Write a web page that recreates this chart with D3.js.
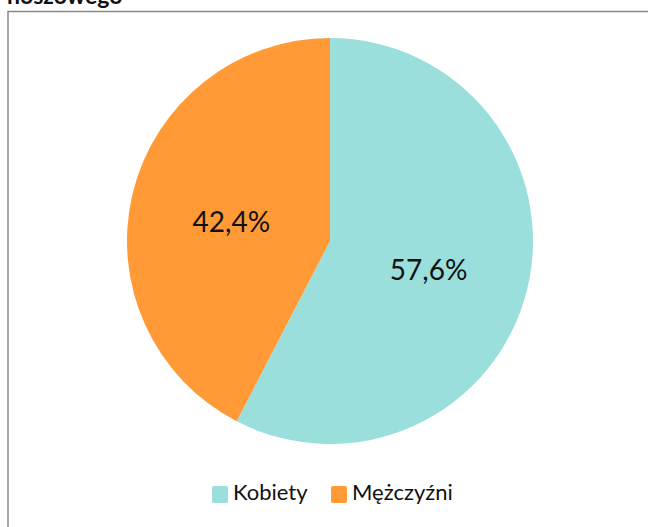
<!DOCTYPE html>
<html>
<head>
<meta charset="utf-8">
<script src="https://cdn.jsdelivr.net/npm/d3@7/dist/d3.min.js"></script>
<style>
  html, body { margin: 0; padding: 0; background: #fff; }
  svg { display: block; }
</style>
</head>
<body>
<svg id="chart" width="648" height="527"></svg>
<script>
// Share of women and men (percent)
const categories = ["Kobiety", "Mężczyźni"];
const values = [57.6, 42.4];
const labels = ["57,6%", "42,4%"];
const colors = ["#9ADFDC", "#FF9A36"];
const titleText = "noszowego";

const svg = d3.select("#chart");
const W = 648, H = 527;
const font = "Lato, 'Open Sans', sans-serif";

// Title (continues from a line above the visible area)
svg.append("text")
  .attr("x", 7)
  .attr("y", 4)
  .attr("font-family", font)
  .attr("font-weight", "bold")
  .attr("font-size", 23)
  .attr("fill", "#111")
  .text(titleText);

// Chart frame, running off the right and bottom edges
svg.append("path")
  .attr("d", `M8,${H + 5} L8,11.5 L${W + 5},11.5`)
  .attr("fill", "none")
  .attr("stroke", "#8a8a8a")
  .attr("stroke-width", 1.5);

const cx = 330, cy = 241, r = 203;
const g = svg.append("g").attr("transform", `translate(${cx},${cy})`);

const pie = d3.pie().sort(null).value(d => d);
const arcs = pie(values);
const arc = d3.arc().innerRadius(0).outerRadius(r);

g.selectAll("path.slice")
  .data(arcs)
  .join("path")
  .attr("class", "slice")
  .attr("d", arc)
  .attr("fill", (d, i) => colors[i]);

g.selectAll("text.lbl")
  .data(arcs)
  .join("text")
  .attr("class", "lbl")
  .attr("transform", d => {
    const [x, y] = arc.centroid(d);
    return `translate(${x},${y + 5})`;
  })
  .attr("text-anchor", "middle")
  .attr("dy", "0.35em")
  .attr("font-family", font)
  .attr("font-size", 28)
  .attr("fill", "#111")
  .text((d, i) => labels[i]);

// Legend
const legendX = [212, 331];
const legend = svg.append("g");
categories.forEach((c, i) => {
  legend.append("rect")
    .attr("x", legendX[i])
    .attr("y", 486)
    .attr("width", 16)
    .attr("height", 17)
    .attr("rx", 2)
    .attr("fill", colors[i]);
  legend.append("text")
    .attr("x", legendX[i] + 21)
    .attr("y", 500)
    .attr("font-family", font)
    .attr("font-size", 22)
    .attr("fill", "#111")
    .text(c);
});
</script>
</body>
</html>
